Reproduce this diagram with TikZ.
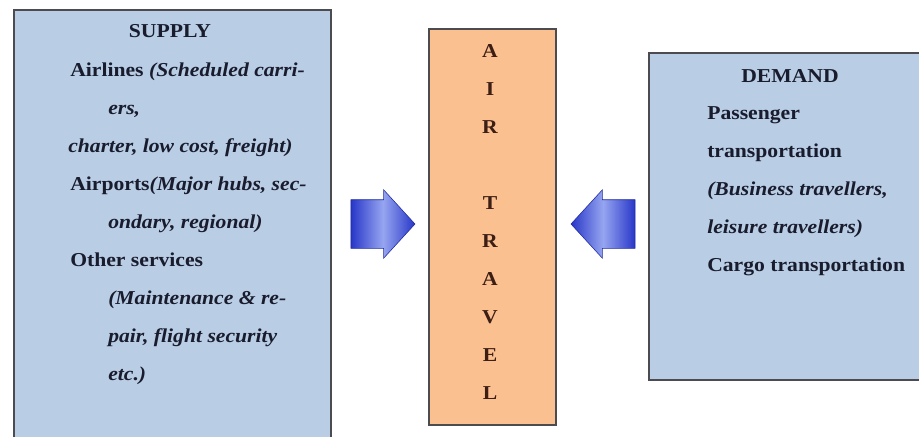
\documentclass[tikz,border=0pt]{standalone}
\usepackage{fontspec}
\setmainfont{Liberation Serif}[FakeStretch=1.1]
\usepackage{tikz}
\usetikzlibrary{positioning,calc,shapes.arrows}

\definecolor{boxblue}{RGB}{185,205,229}
\definecolor{boxorange}{RGB}{250,192,144}
\definecolor{edgegray}{RGB}{75,75,80}
\definecolor{arrowdark}{RGB}{40,55,200}
\definecolor{arrowlight}{RGB}{150,165,240}
\definecolor{textdark}{RGB}{25,28,45}
\definecolor{textbrown}{RGB}{60,30,20}

\begin{document}
\begin{tikzpicture}
    \tikzstyle{panel}=[draw=edgegray,line width=0.9pt,rectangle,inner sep=0]
    \tikzstyle{body}=[inner sep=0,align=left,text=textdark,font=\fontsize{14}{27}\selectfont\bfseries]
    \tikzstyle{blockarrow}=[single arrow,draw=arrowdark!80!black,line width=0.4pt,
      inner xsep=0,inner ysep=0.6cm,text width=0cm,text height=0cm,text depth=0cm,
      minimum height=1.6cm,single arrow head extend=0.25cm,single arrow tip angle=95,
      left color=arrowdark,right color=arrowdark,middle color=arrowlight]

    \useasboundingbox (0,0) rectangle (22.975,10.9);
    \clip (0,0) rectangle (22.975,10.9);

    % the three panels
    \node[panel,fill=boxblue,minimum width=7.925cm,minimum height=11.15cm] at (4.3125,5.075) (supply) {};
    \node[panel,fill=boxorange,minimum width=3.175cm,minimum height=9.9cm] at (12.3125,5.225) (air) {};
    \node[panel,fill=boxblue,minimum width=7.3cm,minimum height=8.175cm] at (19.875,5.4875) (demand) {};

    % supply side
    \node[body,anchor=base] at (4.25,9.95) (supplyhead) {SUPPLY};
    \node[body,anchor=north west] at (1.7,9.34) (supplytext) {%
      \hspace{0.05cm}Airlines \textit{(Scheduled carri-}\\
      \hspace{1cm}\textit{ers,}\\
      \textit{charter, low cost, freight)}\\
      \hspace{0.05cm}Airports\textit{(Major hubs, sec-}\\
      \hspace{1cm}\textit{ondary, regional)}\\
      \hspace{0.05cm}Other services\\
      \hspace{1cm}\textit{(Maintenance \& re-}\\
      \hspace{1cm}\textit{pair, flight security}\\
      \hspace{1cm}\textit{etc.)}};

    % air travel, one letter a line
    \node[body,anchor=north,align=center,text=textbrown] at (12.25,9.79) (airtext) {%
      A\\I\\R\\\mbox{}\\T\\R\\A\\V\\E\\L};

    % demand side
    \node[body,anchor=base] at (19.75,8.85) (demandhead) {DEMAND};
    \node[body,anchor=north west] at (17.675,8.24) (demandtext) {%
      Passenger\\
      transportation\\
      \textit{(Business travellers,}\\
      \textit{leisure travellers)}\\
      Cargo transportation};

    % arrows into the middle
    \node[blockarrow,anchor=tip] at ($(air.west)+(-0.325,0.075)$) (toair) {};
    \node[blockarrow,anchor=tip,shape border rotate=180] at ($(air.east)+(0.35,0.075)$) (fromdemand) {};
  \end{tikzpicture}
\end{document}
